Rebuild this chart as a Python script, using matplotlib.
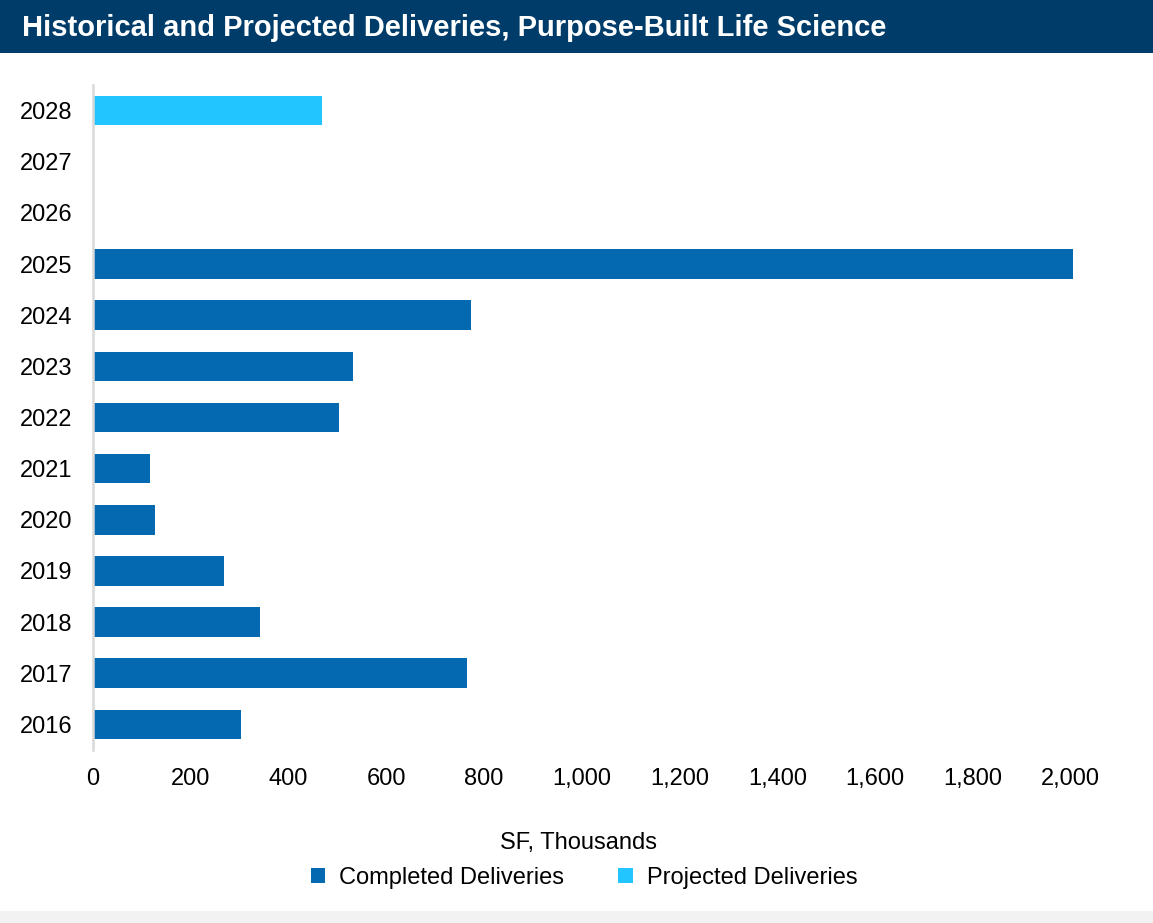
import matplotlib.pyplot as plt
from matplotlib.patches import Patch, Rectangle
import numpy as np

plt.rcParams['font.family'] = ['Liberation Sans', 'DejaVu Sans']

years = ['2016', '2017', '2018', '2019', '2020', '2021', '2022',
         '2023', '2024', '2025', '2026', '2027', '2028']
# SF thousands, by delivery year
completed = [303, 765, 342, 268, 127, 117, 503, 532, 773, 2005, 0, 0, 0]
projected = [0, 0, 0, 0, 0, 0, 0, 0, 0, 0, 0, 0, 468]

x_ticks = [0, 200, 400, 600, 800, 1000, 1200, 1400, 1600, 1800, 2000]

dark_blue = '#0569b2'
light_blue = '#22c5ff'
navy = '#003c69'

fig = plt.figure(figsize=(11.53, 9.23), dpi=100)
fig.patch.set_facecolor('white')

# title banner and the grey strip along the bottom
fig.patches.append(Rectangle((0, 1 - 53 / 923), 1, 53 / 923, transform=fig.transFigure,
                             facecolor=navy, edgecolor='none', zorder=0))
fig.patches.append(Rectangle((0, 0), 1, 12 / 923, transform=fig.transFigure,
                             facecolor='#f2f2f2', edgecolor='none', zorder=0))
fig.text(22 / 1153, 1 - 28 / 923, 'Historical and Projected Deliveries, Purpose-Built Life Science',
         color='white', fontsize=21, fontweight='bold', va='center', ha='left')

ax = fig.add_axes([93 / 1153, 1 - 750 / 923, (1095 - 93) / 1153, 665 / 923])
y = np.arange(len(years))
ax.barh(y, completed, height=0.58, color=dark_blue, label='Completed Deliveries')
ax.barh(y, projected, height=0.58, color=light_blue, label='Projected Deliveries')

ax.set_xlim(0, 2050)
ax.set_ylim(-0.5, len(years) - 0.5)
ax.set_yticks(y)
ax.set_yticklabels(years)
ax.set_xticks(x_ticks)
ax.set_xticklabels([f'{v:,}' for v in x_ticks])
ax.tick_params(axis='both', length=0, labelsize=17, colors='black')
ax.tick_params(axis='y', pad=15)
ax.tick_params(axis='x', pad=13)

for side in ['top', 'right', 'bottom']:
    ax.spines[side].set_visible(False)
ax.spines['left'].set_color('#d9d9d9')
ax.spines['left'].set_linewidth(1.8)

fig.text(578 / 1153, 1 - 843 / 923, 'SF, Thousands', fontsize=17, ha='center', va='center')

handles = [Patch(facecolor=dark_blue, label='Completed Deliveries'),
           Patch(facecolor=light_blue, label='Projected Deliveries')]
fig.legend(handles=handles, loc='center', bbox_to_anchor=(584 / 1153, 1 - 878 / 923),
           ncol=2, frameon=False, fontsize=17, handlelength=0.6, handleheight=0.6,
           handletextpad=0.6, columnspacing=2.3)

fig.savefig('out.png', dpi=100)
